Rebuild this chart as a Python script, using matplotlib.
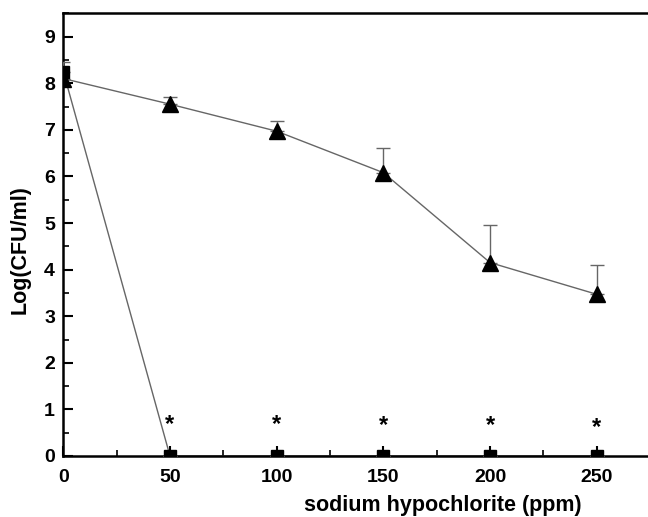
import numpy as np
import matplotlib
matplotlib.use("Agg")
import matplotlib.pyplot as plt
from matplotlib.ticker import MultipleLocator

plt.rcParams['font.family'] = ['Liberation Sans', 'DejaVu Sans']
plt.rcParams['font.weight'] = 'bold'

ppm = [0, 50, 100, 150, 200, 250]
sq_log = [8.25, 0, 0, 0, 0, 0]
sq_err = [0.2, 0, 0, 0, 0, 0]
tri_log = [8.1, 7.55, 6.97, 6.08, 4.15, 3.47]
tri_err = [0.0, 0.15, 0.22, 0.52, 0.8, 0.62]
star_ppm = [50, 100, 150, 200, 250]
star_y = [0.68, 0.68, 0.66, 0.66, 0.62]

fig = plt.figure(figsize=(6.48, 5.17), dpi=100)
ax = fig.add_axes([63.3 / 648, 61 / 517, 586.8 / 648, 442.7 / 517])

line_c = '#666666'
ax.errorbar(ppm, sq_log, yerr=[np.zeros(6), sq_err], fmt='none',
            ecolor=line_c, elinewidth=1, capsize=5, zorder=3)
ax.plot(ppm, sq_log, color=line_c, lw=1, zorder=2)
ax.plot(ppm, sq_log, 's', color='black', ms=8, clip_on=True, zorder=4)
ax.errorbar(ppm, tri_log, yerr=[np.zeros(6), tri_err], fmt='none',
            ecolor=line_c, elinewidth=1, capsize=5, zorder=3)
ax.plot(ppm, tri_log, color=line_c, lw=1, zorder=2)
ax.plot(ppm, tri_log, '^', color='black', ms=11, clip_on=True, zorder=4)

for x, y in zip(star_ppm, star_y):
    ax.text(x, y, '*', ha='center', va='center', fontsize=17, fontweight='bold')

ax.set_xlim(0, 275)
ax.set_ylim(0, 9.5)
ax.xaxis.set_major_locator(MultipleLocator(50))
ax.xaxis.set_minor_locator(MultipleLocator(25))
ax.yaxis.set_major_locator(MultipleLocator(1))
ax.yaxis.set_minor_locator(MultipleLocator(0.5))
ax.tick_params(which='major', direction='in', length=7, width=1.5, labelsize=14)
ax.tick_params(axis='x', which='major', pad=9)
ax.tick_params(axis='y', which='major', pad=6)
ax.tick_params(which='minor', direction='in', length=4, width=1.2)
ax.tick_params(top=False, right=False)
for s in ['left', 'bottom', 'top']:
    ax.spines[s].set_linewidth(1.8)
ax.spines['right'].set_visible(False)

# axis titles placed in figure pixels to match the reference
fig.text(443 / 648, (517 - 511) / 517, 'sodium hypochlorite (ppm)', ha='center',
         va='baseline', fontsize=15.5, fontweight='bold')
fig.text(20 / 648, (517 - 250) / 517, 'Log(CFU/ml)', ha='center', va='center',
         rotation=90, fontsize=15.5, fontweight='bold')

fig.savefig('out.png', dpi=100)
